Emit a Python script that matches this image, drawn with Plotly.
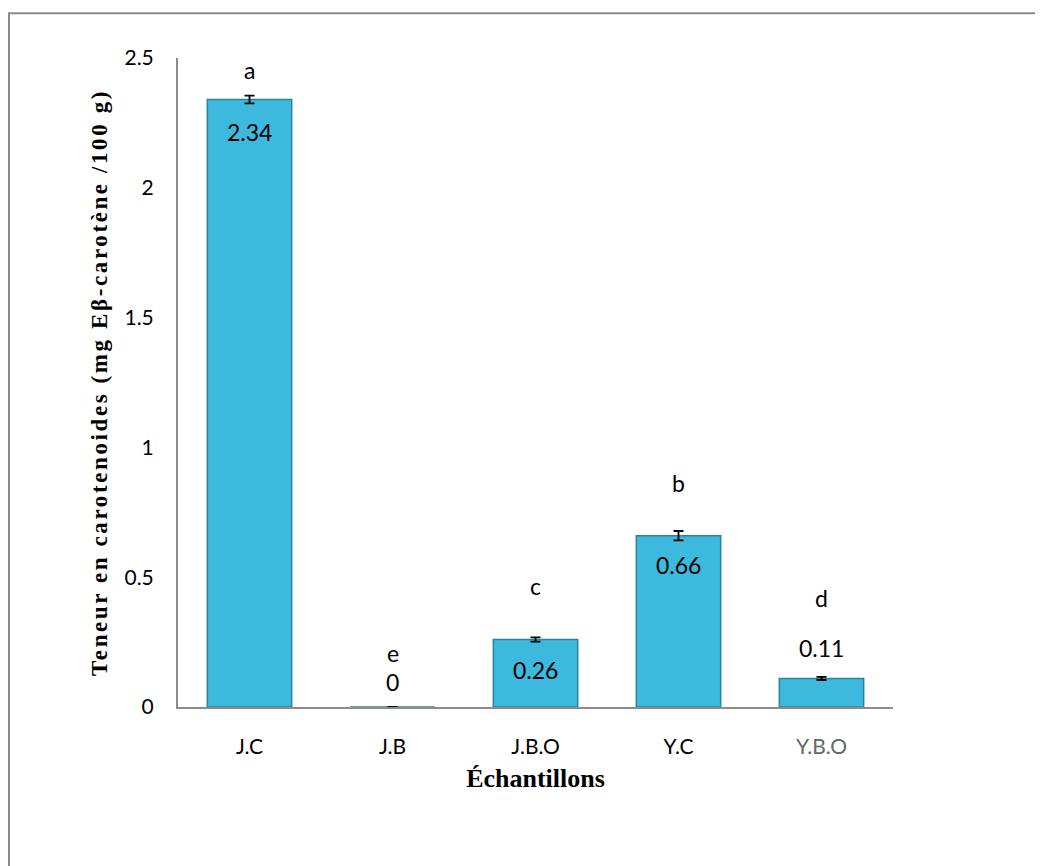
import plotly.graph_objects as go

categories = ["J.C", "J.B", "J.B.O", "Y.C", "Y.B.O"]
values = [2.34, 0.0, 0.26, 0.66, 0.11]
errors = [0.015, 0.0, 0.008, 0.018, 0.006]
value_labels = ["2.34", "0", "0.26", "0.66", "0.11"]
letters = ["a", "e", "c", "b", "d"]
letter_shift = [30, 54, 54, 53, 80]
label_shift = [-32, 25, -30, -29, 30]
y_ticks = [0, 0.5, 1, 1.5, 2, 2.5]
y_ticktext = ["0", "0.5", "1", "1.5", "2", "2.5"]
x_ticktext = ["J.C", "J.B", "J.B.O", "Y.C", "<span style='color:#666'>Y.B.O</span>"]

FONT = "Lato"
fig = go.Figure()
fig.add_trace(go.Bar(
    x=categories, y=values, width=0.59,
    marker=dict(color="#3CB9DC", line=dict(color="#2A849C", width=1.5)),
    error_y=dict(type="data", array=errors, visible=True, color="black", thickness=1.8, width=5),
    cliponaxis=False,
))
for c, v, l, s in zip(categories, values, letters, letter_shift):
    fig.add_annotation(x=c, y=v, text=l, showarrow=False, yshift=s,
                       font=dict(family=FONT, size=23, color="black"))
for c, v, t, s in zip(categories, values, value_labels, label_shift):
    fig.add_annotation(x=c, y=v, text=t, showarrow=False, yshift=s,
                       font=dict(family=FONT, size=23, color="black"))

fig.add_shape(type="rect", xref="paper", yref="paper", x0=-0.2364, y0=-0.5, x1=1.5, y1=1.069,
              line=dict(color="#8a8a8a", width=2), fillcolor="rgba(0,0,0,0)", layer="below")

fig.update_layout(
    width=1043, height=866,
    margin=dict(l=170, r=158, t=50, b=167),
    paper_bgcolor="white", plot_bgcolor="white",
    showlegend=False, bargap=0.41,
    xaxis=dict(
        tickvals=categories, ticktext=x_ticktext,
        showline=True, linecolor="#8c8c8c", linewidth=2, ticks="",
        showgrid=False, tickfont=dict(family=FONT, size=21, color="black"),
        ticklabelstandoff=20,
        title=dict(text="<b>Échantillons</b>", font=dict(family="Liberation Serif", size=26, color="black"), standoff=12),
    ),
    yaxis=dict(
        range=[0, 2.5], tickvals=y_ticks, ticktext=y_ticktext,
        showline=True, linecolor="#8c8c8c", linewidth=2, ticks="",
        showgrid=False, zeroline=False, tickfont=dict(family=FONT, size=21, color="black"),
        ticklabelstandoff=18,
        title=dict(text="<b><span style='letter-spacing:2.6px'>Teneur en carotenoides (mg Eβ-carotène /100 g)</span></b>",
                   font=dict(family="Liberation Serif", size=23, color="black"), standoff=10),
    ),
)
fig.write_html("out.html")
